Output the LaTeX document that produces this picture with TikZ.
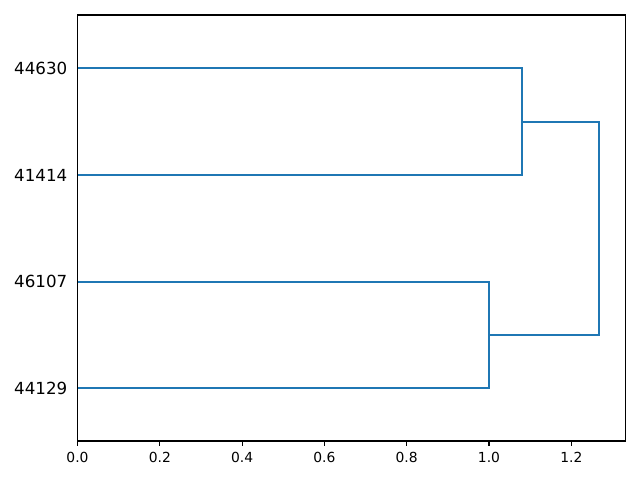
\documentclass[tikz,border=0pt]{standalone}
\usepackage{fontspec}
\setmainfont{DejaVu Sans}
\begin{document}
\begin{tikzpicture}[x=0.75pt,y=-0.75pt,
  dend/.style={draw={rgb,255:red,31;green,119;blue,180},line width=1.56pt,line join=miter},
  spine/.style={draw=black,line width=0.83pt},
  tickmark/.style={draw=black,line width=0.83pt},
  xlab/.style={anchor=north,inner sep=0pt,font=\fontsize{10.4pt}{12pt}\selectfont},
  ylab/.style={anchor=east,inner sep=0pt,font=\fontsize{12.5pt}{14pt}\selectfont}]
\useasboundingbox (0,0) rectangle (640,480);
% leaves
\coordinate (l1) at (77.5,68.25);
\coordinate (l2) at (77.5,175);
\coordinate (l3) at (77.5,281.6);
\coordinate (l4) at (77.5,388.3);
% merge points
\coordinate (m1a) at (521.9,68.25);
\coordinate (m1b) at (521.9,175);
\coordinate (m1) at (521.9,121.6);
\coordinate (m2a) at (489,281.6);
\coordinate (m2b) at (489,388.3);
\coordinate (m2) at (489,334.9);
\coordinate (r1) at (598.7,121.6);
\coordinate (r2) at (598.7,334.9);
\draw[dend] (l1) -- (m1a) -- (m1b) -- (l2);
\draw[dend] (l3) -- (m2a) -- (m2b) -- (l4);
\draw[dend] (m1) -- (r1) -- (r2) -- (m2);
% axes
\coordinate (axnw) at (77.5,15);
\coordinate (axse) at (625.3,441);
\draw[spine] (axnw) rectangle (axse);
% y labels
\node[ylab] (y1) at (67.5,68.25) {44630};
\node[ylab] (y2) at (67.5,175) {41414};
\node[ylab] (y3) at (67.5,281.6) {46107};
\node[ylab] (y4) at (67.5,388.3) {44129};
% x ticks
\foreach \v/\t [count=\i] in {0/0.0,0.2/0.2,0.4/0.4,0.6/0.6,0.8/0.8,1.0/1.0,1.2/1.2}{
  \coordinate (tk\i) at ({77.5+411.5*\v},441);
  \draw[tickmark] (tk\i) -- ++(0,4.86);
  \node[xlab] (xl\i) at ({77.5+411.5*\v},451.5) {\t};
}
\end{tikzpicture}
\end{document}
